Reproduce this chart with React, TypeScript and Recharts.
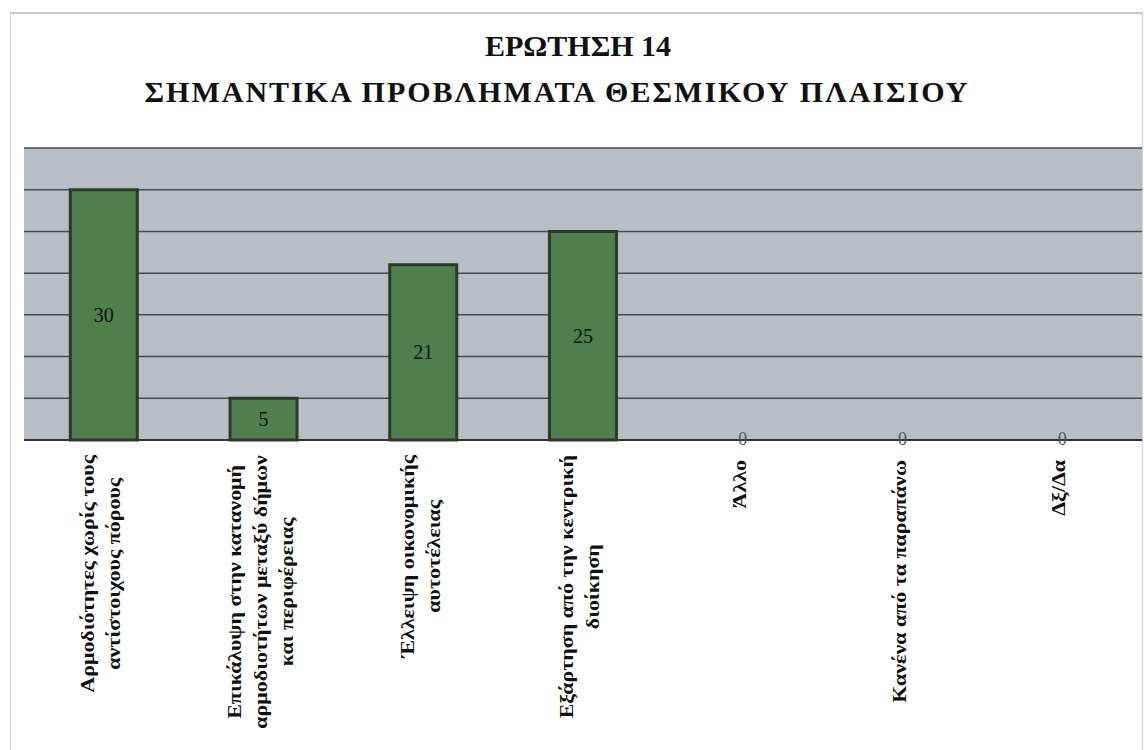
import { ComposedChart, Bar, Line, XAxis, YAxis, CartesianGrid, LabelList } from 'recharts'

const categories: string[][] = [
  ['Αρμοδιότητες χωρίς τους', 'αντίστοιχους πόρους'],
  ['Επικάλυψη στην κατανομή', 'αρμοδιοτήτων μεταξύ δήμων', 'και περιφέρειας'],
  ['Έλλειψη οικονομικής', 'αυτοτέλειας'],
  ['Εξάρτηση από την κεντρική', 'διοίκηση'],
  ['Άλλο'],
  ['Κανένα από τα παραπάνω'],
  ['Δξ/Δα'],
]
const responses = [30, 5, 21, 25, 0, 0, 0]
const yTicks = [0, 5, 10, 15, 20, 25, 30, 35]
const titleLines = ['ΕΡΩΤΗΣΗ 14', 'ΣΗΜΑΝΤΙΚΑ ΠΡΟΒΛΗΜΑΤΑ ΘΕΣΜΙΚΟΥ ΠΛΑΙΣΙΟΥ']

const data = categories.map((lines, i) => ({ name: String(i), value: responses[i] }))

const SERIF = '"Liberation Serif", "DejaVu Serif", serif'
const LABEL_SIZE = 18
const LABEL_STRETCH = 1.22
const LINE_GAP = 26

let ctx: CanvasRenderingContext2D | null = null
function measure(s: string) {
  if (!ctx) ctx = document.createElement('canvas').getContext('2d')
  if (!ctx) return s.length * 9 * LABEL_STRETCH
  ctx.font = `bold ${LABEL_SIZE}px ${SERIF}`
  return ctx.measureText(s).width * LABEL_STRETCH
}

function RotatedTick(props: any) {
  const { x, y, payload } = props
  const lines = categories[Number(payload.value)] || []
  const maxW = Math.max(...lines.map(measure))
  const top = y + (lines.length === 1 ? 12 : 7)
  return (
    <g>
      {lines.map((line, i) => (
        <text
          key={i}
          transform={`translate(${x - 3 + (i - (lines.length - 1) / 2) * LINE_GAP}, ${top + maxW / 2}) rotate(-90) scale(${LABEL_STRETCH}, 1)`}
          textAnchor="middle"
          dominantBaseline="central"
          fontFamily={SERIF}
          fontWeight="bold"
          fontSize={LABEL_SIZE}
          fill="#111"
        >
          {line}
        </text>
      ))}
    </g>
  )
}

function ValueLabel(props: any) {
  const { x, y, width, height, value } = props
  if (!value) return null
  return (
    <text
      x={x + width / 2}
      y={y + height / 2}
      textAnchor="middle"
      dominantBaseline="central"
      fontFamily={SERIF}
      fontSize={20}
      fill="#111"
    >
      {value}
    </text>
  )
}

function ZeroLabel(props: any) {
  const { x, y, value } = props
  if (value !== 0) return null
  return (
    <text x={x} y={y - 1} textAnchor="middle" dominantBaseline="central" fontFamily={SERIF} fontSize={18} fill="#555">
      {value}
    </text>
  )
}

export default function App() {
  return (
    <div style={{ position: 'absolute', left: 0, top: 0, width: 1144, height: 750, background: '#fff' }}>
      <div
        style={{
          position: 'absolute', left: 10, top: 12, width: 1131, height: 740,
          borderTop: '2px solid #c8c8c8', borderLeft: '1px solid #d0d0d0', borderRight: '1px solid #d0d0d0',
        }}
      />
      <div
        style={{
          position: 'absolute', left: 0, top: 23, width: 1144, textAlign: 'center',
          fontFamily: SERIF, fontWeight: 'bold', fontSize: 30, lineHeight: '46px', color: '#111',
        }}
      >
        <div style={{ paddingLeft: 12 }}>{titleLines[0]}</div>
        <div style={{ letterSpacing: 2, marginLeft: -30 }}>{titleLines[1]}</div>
      </div>
      <div style={{ position: 'absolute', left: 0, top: 0 }}>
        <ComposedChart
          width={1144}
          height={750}
          data={data}
          margin={{ top: 148, right: 2, bottom: 10, left: 24 }}
          barCategoryGap="29%"
        >
          <CartesianGrid
            vertical={false}
            horizontal
            stroke="#4a4a4a"
            strokeWidth={1.5}
            fill="#b9bdc5"
            fillOpacity={1}
          />
          <XAxis
            dataKey="name"
            height={300}
            tickLine={false}
            axisLine={{ stroke: '#333', strokeWidth: 2 }}
            tick={<RotatedTick />}
            interval={0}
          />
          <YAxis hide domain={[0, 35]} ticks={yTicks} width={0} />
          <Bar dataKey="value" fill="#4e7f4c" stroke="#2b3a2b" strokeWidth={3} isAnimationActive={false}>
            <LabelList dataKey="value" content={<ValueLabel />} />
          </Bar>
          <Line dataKey="value" stroke="none" dot={false} activeDot={false} isAnimationActive={false}>
            <LabelList dataKey="value" content={<ZeroLabel />} />
          </Line>
        </ComposedChart>
      </div>
    </div>
  )
}
